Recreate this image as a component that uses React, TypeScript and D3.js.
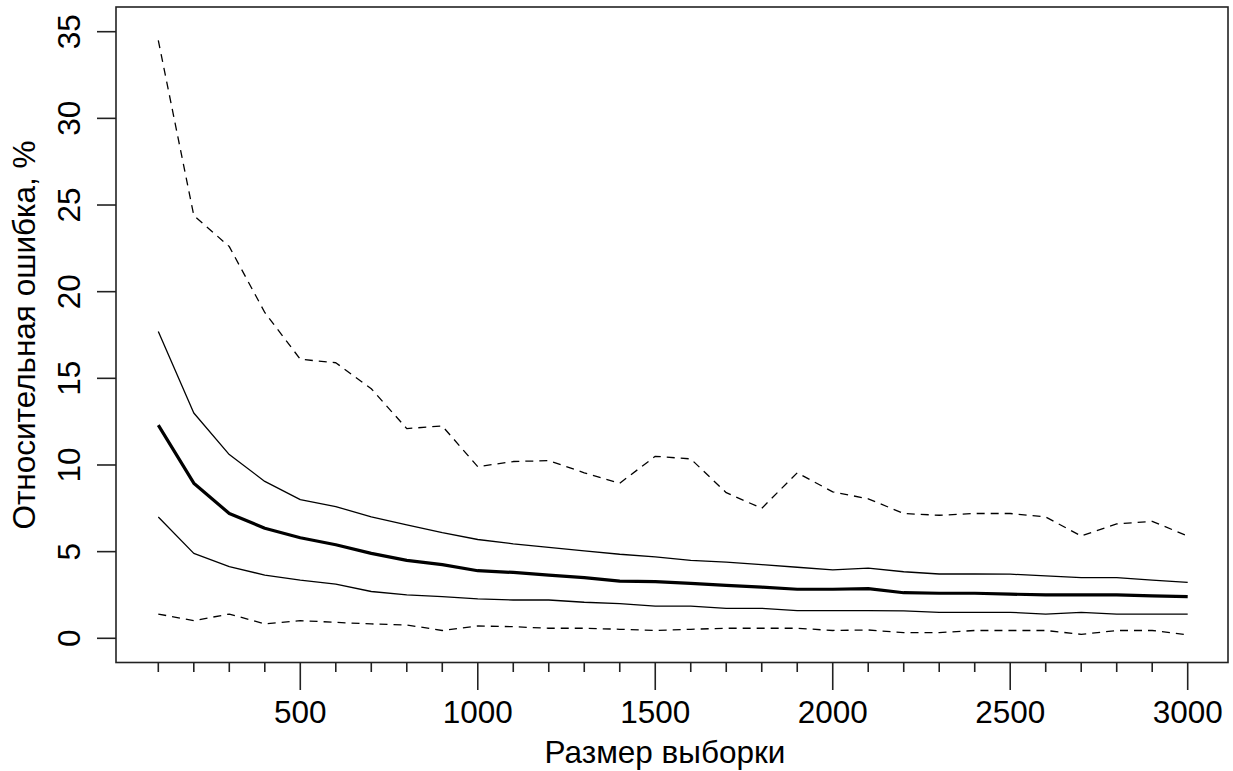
import React from "react";
import * as d3 from "d3";

const sampleSizes = [100,200,300,400,500,600,700,800,900,1000,1100,1200,1300,1400,1500,1600,1700,1800,1900,2000,2100,2200,2300,2400,2500,2600,2700,2800,2900,3000];

const upperDashed = [34.5,24.4,22.6,18.8,16.1,15.9,14.4,12.1,12.25,9.9,10.2,10.25,9.55,8.95,10.5,10.35,8.4,7.5,9.55,8.45,8.05,7.2,7.1,7.2,7.2,7.0,5.9,6.6,6.75,5.9];
const upperSolid = [17.7,13.0,10.6,9.05,8.0,7.6,7.0,6.55,6.1,5.7,5.45,5.25,5.05,4.85,4.7,4.5,4.4,4.25,4.1,3.95,4.05,3.84,3.71,3.71,3.7,3.6,3.5,3.5,3.36,3.23];
const median = [12.3,8.95,7.2,6.35,5.8,5.4,4.9,4.5,4.25,3.9,3.8,3.65,3.5,3.3,3.27,3.17,3.05,2.95,2.83,2.83,2.87,2.63,2.6,2.6,2.55,2.5,2.5,2.5,2.45,2.4];
const lowerSolid = [7.0,4.9,4.13,3.65,3.36,3.13,2.7,2.5,2.4,2.27,2.21,2.21,2.08,2.0,1.86,1.86,1.73,1.73,1.6,1.6,1.6,1.58,1.5,1.5,1.5,1.4,1.5,1.4,1.4,1.4];
const lowerDashed = [1.4,1.02,1.4,0.83,1.02,0.92,0.83,0.77,0.45,0.71,0.67,0.58,0.58,0.52,0.45,0.52,0.58,0.58,0.58,0.45,0.48,0.33,0.33,0.45,0.45,0.45,0.23,0.45,0.45,0.2];

const xMinorTicks = d3.range(100, 3001, 100);
const xMajorTicks = [500, 1000, 1500, 2000, 2500, 3000];
const yTicks = [0, 5, 10, 15, 20, 25, 30, 35];

const xTitle = "Размер выборки";
const yTitle = "Относительная ошибка, %";

const FONT = "'Liberation Sans', Arial, sans-serif";

export default function App() {
  const W = 1233, H = 771;
  const x = d3.scaleLinear().domain([100, 3000]).range([158.3, 1187.7]);
  const y = d3.scaleLinear().domain([0, 35]).range([638.3, 31.7]);
  const box = { l: 116, t: 7, r: 1228, b: 662.5 };

  const line = d3.line<number>()
    .x((_, i) => x(sampleSizes[i]))
    .y((d) => y(d));

  const series = [
    { data: upperDashed, w: 1.3, dash: "8 6" },
    { data: upperSolid, w: 1.3, dash: undefined },
    { data: median, w: 3.2, dash: undefined },
    { data: lowerSolid, w: 1.3, dash: undefined },
    { data: lowerDashed, w: 1.3, dash: "8 6" },
  ];

  return (
    <svg width={W} height={H} style={{ position: "absolute", left: 0, top: 0, background: "#fff" }} fontFamily={FONT}>
      <rect x={0} y={0} width={W} height={H} fill="#fff" />
      {series.map((s, i) => (
        <path key={i} d={line(s.data) || ""} fill="none" stroke="#000" strokeWidth={s.w}
          strokeDasharray={s.dash} strokeLinejoin="round" />
      ))}
      <rect x={box.l} y={box.t} width={box.r - box.l} height={box.b - box.t} fill="none" stroke="#222" strokeWidth={1.6} />
      {xMinorTicks.map((t) => (
        <line key={"m" + t} x1={x(t)} x2={x(t)} y1={box.b} y2={xMajorTicks.includes(t) ? 690 : 672} stroke="#222" strokeWidth={1.6} />
      ))}
      {xMajorTicks.map((t) => (
        <text key={"xl" + t} x={x(t)} y={723} fontSize={31.5} textAnchor="middle" fill="#000">{t}</text>
      ))}
      {yTicks.map((t) => (
        <g key={"y" + t}>
          <line x1={97} x2={box.l} y1={y(t)} y2={y(t)} stroke="#222" strokeWidth={1.6} />
          <text transform={`translate(80,${y(t)}) rotate(-90)`} fontSize={31.5} textAnchor="middle" fill="#000">{t}</text>
        </g>
      ))}
      <text x={665} y={763} fontSize={31.5} textAnchor="middle" fill="#000">{xTitle}</text>
      <text transform={`translate(35,335) rotate(-90)`} fontSize={31.5} textAnchor="middle" fill="#000">{yTitle}</text>
    </svg>
  );
}
